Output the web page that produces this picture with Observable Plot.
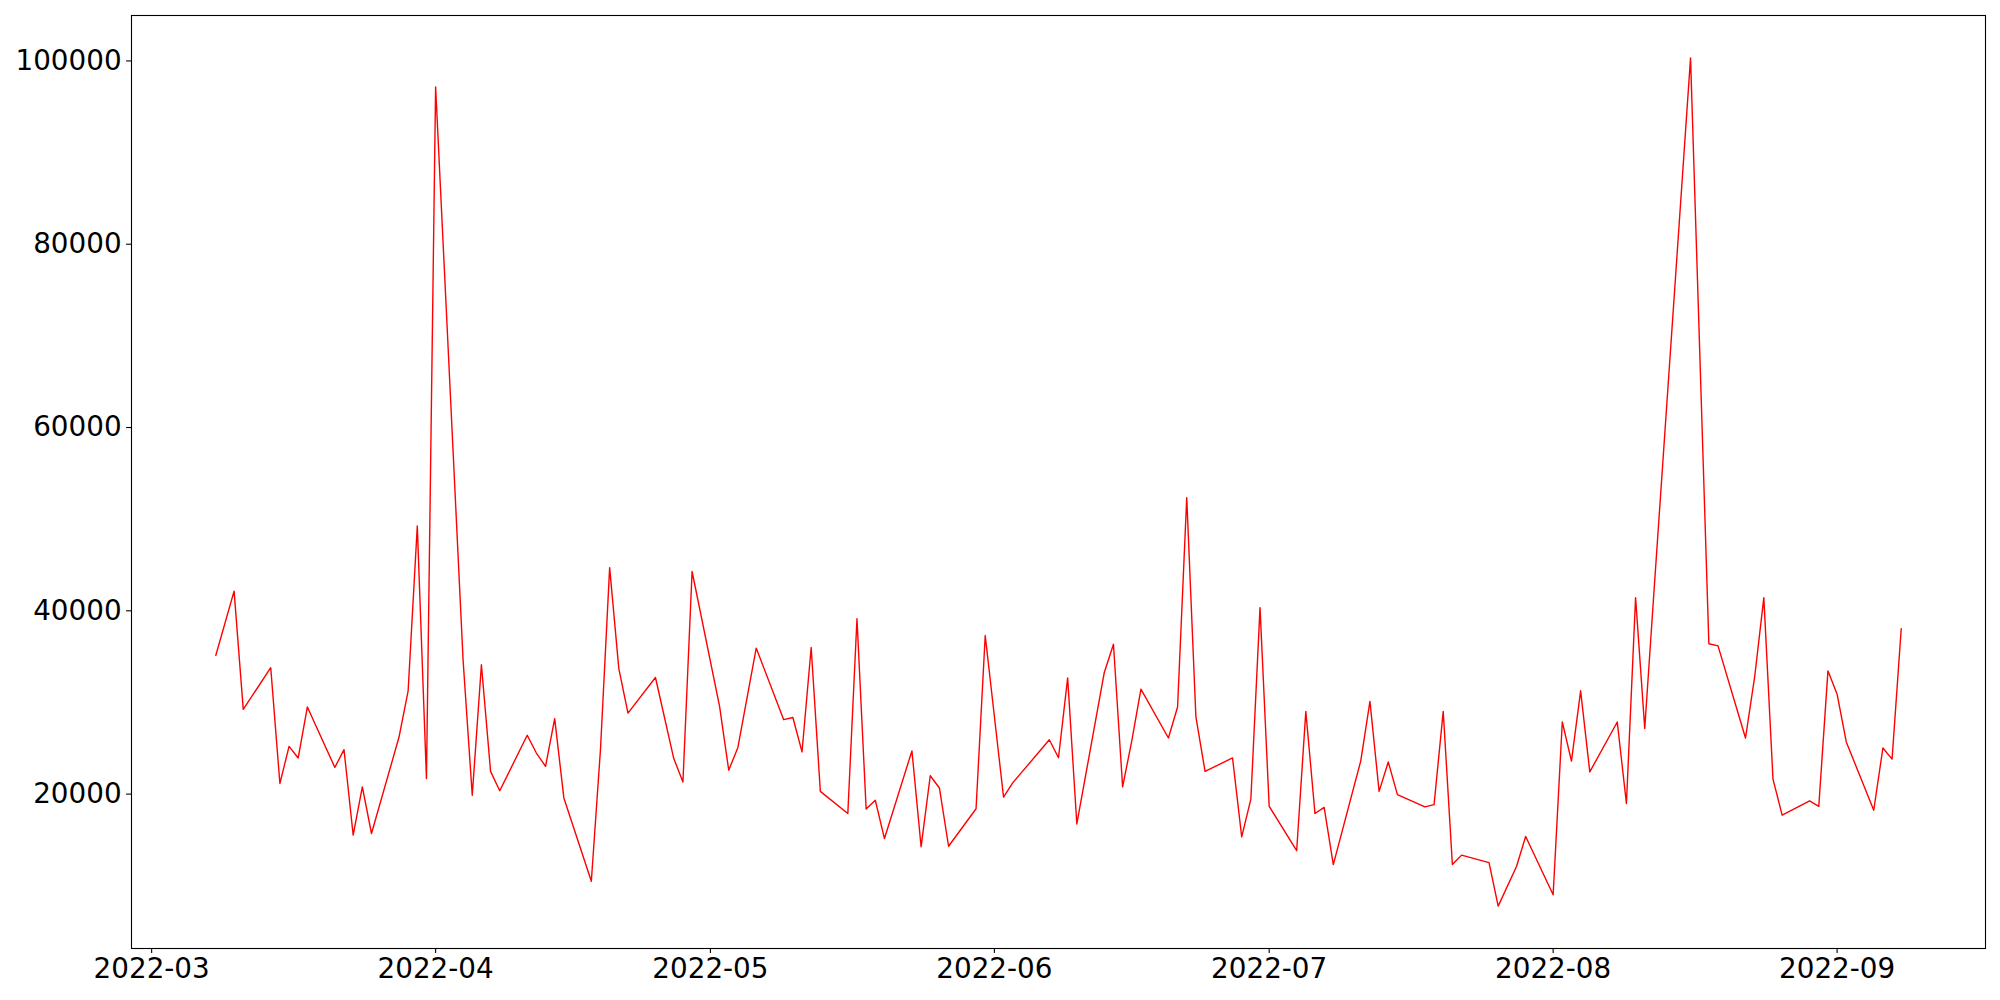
<!DOCTYPE html>
<html>
<head>
<meta charset="utf-8">
<script src="https://cdn.jsdelivr.net/npm/d3@7"></script>
<script src="https://cdn.jsdelivr.net/npm/@observablehq/plot@0.6"></script>
<style>
  html, body { margin: 0; padding: 0; background: #fff; }
  #chart { width: 2000px; height: 1000px; }
</style>
</head>
<body>
<div id="chart"></div>
<script>
const dates = [
  "2022-03-08","2022-03-10","2022-03-11","2022-03-14","2022-03-15","2022-03-16","2022-03-17","2022-03-18",
  "2022-03-21","2022-03-22","2022-03-23","2022-03-24","2022-03-25","2022-03-28","2022-03-29","2022-03-30",
  "2022-03-31","2022-04-01","2022-04-04","2022-04-05","2022-04-06","2022-04-07","2022-04-08","2022-04-11",
  "2022-04-12","2022-04-13","2022-04-14","2022-04-15","2022-04-18","2022-04-19","2022-04-20","2022-04-21",
  "2022-04-22","2022-04-25","2022-04-27","2022-04-28","2022-04-29","2022-05-02","2022-05-03","2022-05-04",
  "2022-05-06","2022-05-09","2022-05-10","2022-05-11","2022-05-12","2022-05-13","2022-05-16","2022-05-17",
  "2022-05-18","2022-05-19","2022-05-20","2022-05-23","2022-05-24","2022-05-25","2022-05-26","2022-05-27",
  "2022-05-30","2022-05-31","2022-06-02","2022-06-03","2022-06-07","2022-06-08","2022-06-09","2022-06-10",
  "2022-06-13","2022-06-14","2022-06-15","2022-06-16","2022-06-17","2022-06-20","2022-06-21","2022-06-22",
  "2022-06-23","2022-06-24","2022-06-27","2022-06-28","2022-06-29","2022-06-30","2022-07-01","2022-07-04",
  "2022-07-05","2022-07-06","2022-07-07","2022-07-08","2022-07-11","2022-07-12","2022-07-13","2022-07-14",
  "2022-07-15","2022-07-18","2022-07-19","2022-07-20","2022-07-21","2022-07-22","2022-07-25","2022-07-26",
  "2022-07-28","2022-07-29","2022-08-01","2022-08-02","2022-08-03","2022-08-04","2022-08-05","2022-08-08",
  "2022-08-09","2022-08-10","2022-08-11","2022-08-12","2022-08-16","2022-08-18","2022-08-19","2022-08-22",
  "2022-08-23","2022-08-24","2022-08-25","2022-08-26","2022-08-29","2022-08-30","2022-08-31","2022-09-01",
  "2022-09-02","2022-09-05","2022-09-06","2022-09-07","2022-09-08"
];
const values = [
  35130, 42150, 29240, 33790, 21150, 25210, 23940, 29510,
  22910, 24850, 15520, 20790, 15700, 26200, 31270, 49250,
  21700, 97170, 34600, 19880, 34110, 22480, 20360, 26420,
  24480, 23030, 28240, 19580, 10490, 24910, 44710, 33690,
  28840, 32720, 23880, 21330, 44290, 29570, 22600, 25090,
  35930, 28120, 28360, 24600, 35990, 20300, 17880, 39140,
  18370, 19330, 15150, 24720, 14250, 22000, 20670, 14310,
  18400, 37310, 19670, 21220, 25930, 23970, 32680, 16740,
  33270, 36350, 20790, 25820, 31450, 26120, 29510, 52350,
  28420, 22480, 23940, 15340, 19460, 40350, 18670, 13820,
  29030, 17880, 18550, 12310, 23630, 30120, 20300, 23510,
  19940, 18610, 18850, 29030, 12310, 13340, 12530, 7780,
  12100, 15370, 9010, 27870, 23600, 31270, 22420, 27870,
  18970, 41440, 27150, 42000, 100330, 36410, 36170, 26120,
  32780, 41440, 21640, 17700, 19270, 18670, 33450, 30900,
  25690, 18240, 25030, 23820, 38050
];
const yTicks = [20000, 40000, 60000, 80000, 100000];

const data = dates.map((d, i) => ({date: new Date(d + "T00:00:00Z"), value: values[i]}));

// matplotlib-style 5% margins around the data extent
const [d0, d1] = d3.extent(data, d => +d.date);
const dm = (d1 - d0) * 0.05;
const [v0, v1] = d3.extent(values);
const vm = (v1 - v0) * 0.05;

const fs = 27.8;
const chart = Plot.plot({
  width: 2000,
  height: 1000,
  marginLeft: 131,
  marginRight: 15,
  marginTop: 15,
  marginBottom: 52,
  style: {fontFamily: "'DejaVu Sans', sans-serif", background: "#fff", color: "#000"},
  x: {type: "utc", domain: [new Date(d0 - dm), new Date(d1 + dm)], label: null},
  y: {domain: [v0 - vm, v1 + vm], label: null},
  marks: [
    Plot.line(data, {x: "date", y: "value", stroke: "#ff0000", strokeWidth: 1.4}),
    Plot.frame({stroke: "#000", strokeWidth: 1.1}),
    Plot.axisX({
      ticks: d3.utcMonth.every(1),
      tickFormat: d3.utcFormat("%Y-%m"),
      tickSize: 4.9,
      tickPadding: 5,
      fontSize: fs,
      strokeWidth: 1.1,
      label: null
    }),
    Plot.axisY({
      ticks: yTicks,
      tickFormat: d3.format("d"),
      tickSize: 4.9,
      tickPadding: 5,
      fontSize: fs,
      strokeWidth: 1.1,
      label: null
    })
  ]
});
document.getElementById("chart").appendChild(chart);
</script>
</body>
</html>
